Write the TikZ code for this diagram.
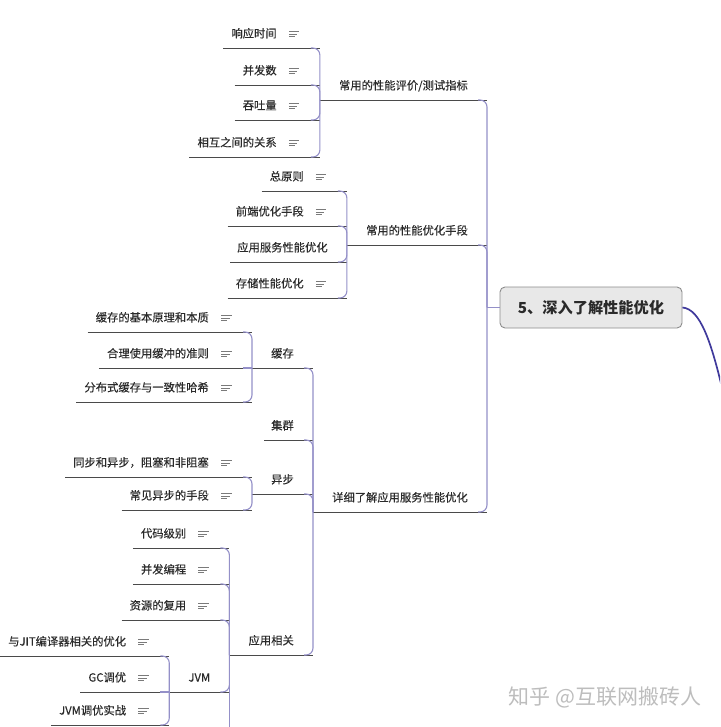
\documentclass[tikz,border=0pt]{standalone}
\usepackage{fontspec}
\setmainfont{Noto Sans CJK SC}
\newfontfamily\topicfont{Noto Sans CJK SC}[FakeBold=0.35]
\definecolor{conncol}{HTML}{9490C8}
\definecolor{ulcol}{HTML}{4A4A4A}
\definecolor{txtcol}{HTML}{2A2A2A}
\definecolor{iconcol}{HTML}{7A7A7A}
\definecolor{rootfill}{HTML}{E8E8E8}
\definecolor{rootdraw}{HTML}{8C8C8C}
\definecolor{linkcol}{HTML}{403A9C}
\definecolor{wmcol}{HTML}{BDBDBD}
\begin{document}
\begin{tikzpicture}[x=1pt,y=-1pt,
  topicbase/.style={anchor=south east, font=\topicfont\fontsize{11.3}{13}\selectfont, text=txtcol,
    text height=9pt, text depth=3pt, inner ysep=7.2pt,
    append after command={\pgfextra{\draw[ulcol,line width=0.9pt] (\tikzlastnode.south west) -- (\tikzlastnode.south east);}}},
  branch/.style={topicbase, inner xsep=19pt},
  bare/.style={topicbase, inner xsep=7pt, execute at end node={\hspace{12pt}}},
  leaf/.style={topicbase, inner xsep=8pt, execute at end node={\hspace{35pt}},
    append after command={\pgfextra{\draw[iconcol,line width=0.9pt]
      ([shift={(-31pt,16.7pt)}]\tikzlastnode.south east) -- ++(10.5pt,0pt)
      ([shift={(-31pt,14pt)}]\tikzlastnode.south east) -- ++(8.5pt,0pt)
      ([shift={(-31pt,11.3pt)}]\tikzlastnode.south east) -- ++(6pt,0pt);}}},
  rootbox/.style={draw=rootdraw, fill=rootfill, line width=0.9pt, rounded corners=5pt,
    minimum width=182pt, minimum height=41pt, inner sep=0pt,
    font=\fontsize{15.2}{17}\selectfont\bfseries, text=txtcol, text height=14pt, text depth=2.4pt},
  conn/.style={draw=conncol, line width=1.1pt, rounded corners=7pt},
  rootlink/.style={draw=linkcol, line width=1.7pt},
  wm/.style={font=\fontsize{21}{24}\selectfont, text=wmcol}
]
\useasboundingbox (0,0) rectangle (720,727);
\clip (0,0) rectangle (720,727);

% root
\node[rootbox] (root) at (591,307.5) {5、深入了解性能优化};
\coordinate (trunk) at (487,307.5);
\coordinate (offright) at (724,396);

% level 1
\node[branch] (pa) at (trunk |- 0,100) {常用的性能评价/测试指标};
\node[branch] (pb) at (trunk |- 0,245) {常用的性能优化手段};
\node[branch] (pc) at (trunk |- 0,512) {详细了解应用服务性能优化};

% level 2 under pa
\node[leaf] (a1) at (pa.south west |- 0,48) {响应时间};
\node[leaf] (a2) at (pa.south west |- 0,85) {并发数};
\node[leaf] (a3) at (pa.south west |- 0,120) {吞吐量};
\node[leaf] (a4) at (pa.south west |- 0,157) {相互之间的关系};

% level 2 under pb
\node[leaf] (b1) at (pb.south west |- 0,191) {总原则};
\node[leaf] (b2) at (pb.south west |- 0,226) {前端优化手段};
\node[bare] (b3) at (pb.south west |- 0,262) {应用服务性能优化};
\node[leaf] (b4) at (pb.south west |- 0,298) {存储性能优化};

% level 2 under pc
\node[branch] (c1) at (pc.south west |- 0,368) {缓存};
\node[bare]   (c2) at (pc.south west |- 0,440) {集群};
\node[branch] (c3) at (pc.south west |- 0,494) {异步};
\node[branch] (c4) at (pc.south west |- 0,655) {应用相关};

% level 3 under c1
\node[leaf] (d1) at (c1.south west |- 0,332) {缓存的基本原理和本质};
\node[leaf] (d2) at (c1.south west |- 0,368) {合理使用缓冲的准则};
\node[leaf] (d3) at (c1.south west |- 0,402) {分布式缓存与一致性哈希};

% level 3 under c3
\node[leaf] (e1) at (c3.south west |- 0,477) {同步和异步，阻塞和非阻塞};
\node[leaf] (e2) at (c3.south west |- 0,510) {常见异步的手段};

% level 3 under c4
\node[leaf] (f1) at (c4.south west |- 0,548) {代码级别};
\node[leaf] (f2) at (c4.south west |- 0,584) {并发编程};
\node[leaf] (f3) at (c4.south west |- 0,620) {资源的复用};
\node[branch] (f4) at (c4.south west |- 0,692) {JVM};
\coordinate (fmore) at (c4.south west |- 0,745);

% level 4 under f4
\node[leaf] (g1) at (f4.south west |- 0,656) {与JIT编译器相关的优化};
\node[leaf] (g2) at (f4.south west |- 0,692) {GC调优};
\node[leaf] (g3) at (f4.south west |- 0,725) {JVM调优实战};

% connectors
\draw[conn] (root.west) -- (trunk);
\foreach \c in {pa,pb,pc}
  \draw[conn] (trunk) |- ([xshift=-9pt]\c.south east);
\foreach \p/\c in {pa/a1,pa/a2,pa/a3,pa/a4,pb/b1,pb/b2,pb/b3,pb/b4,
                   pc/c1,pc/c2,pc/c3,pc/c4,c1/d1,c1/d3,c3/e1,c3/e2,
                   c4/f1,c4/f2,c4/f3,c4/f4,f4/g1,f4/g3}
  \draw[conn] (\p.south west) |- ([xshift=-9pt]\c.south east);
\draw[conn] (c1.south west) -- ([xshift=-9pt]d2.south east);
\draw[conn] (f4.south west) -- ([xshift=-9pt]g2.south east);
\draw[conn] (c4.south west) -- (fmore);

% link leaving the root to the right
\draw[rootlink] (root.east) .. controls (700,309) and (711,340) .. (offright);

% watermark
\node[wm] (wmark) at (605,697) {知乎 @互联网搬砖人};
\end{tikzpicture}
\end{document}
